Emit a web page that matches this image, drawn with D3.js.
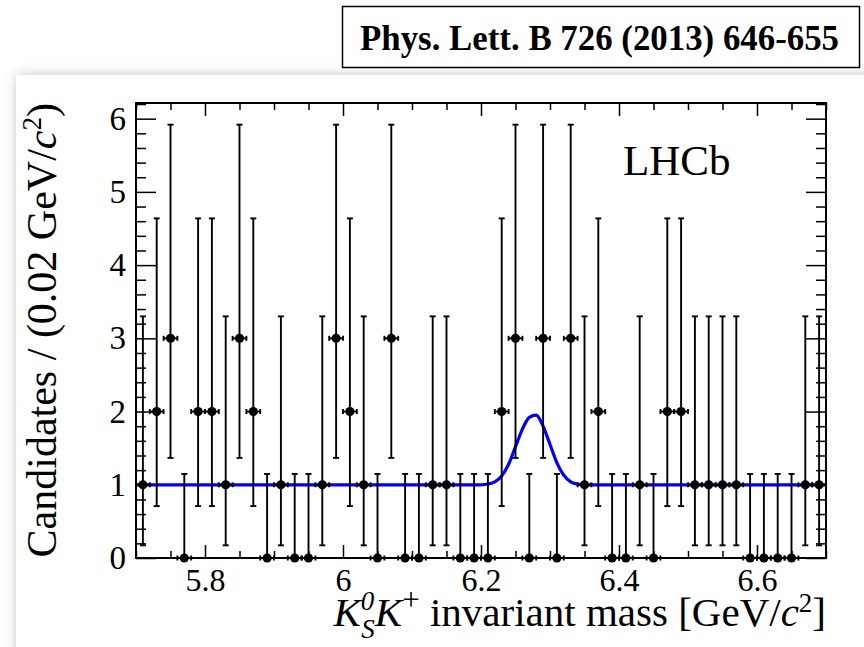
<!DOCTYPE html>
<html>
<head>
<meta charset="utf-8">
<script src="https://cdn.jsdelivr.net/npm/d3@7/dist/d3.min.js"></script>
<style>
  body { margin: 0; background: #fff; }
  svg { display: block; }
  .tick text { font-family: 'Liberation Serif', 'Times New Roman', serif; fill: #000; }
</style>
</head>
<body>
<div class="chart"></div>
<script>
// bin centres (0.02 GeV/c^2 bins) and candidate counts
var masses = [5.71, 5.73, 5.75, 5.77, 5.79, 5.81, 5.83, 5.85, 5.87, 5.89,
              5.91, 5.93, 5.95, 5.97, 5.99, 6.01, 6.03, 6.05, 6.07, 6.09,
              6.11, 6.13, 6.15, 6.17, 6.19, 6.21, 6.23, 6.25, 6.27, 6.29,
              6.31, 6.33, 6.35, 6.37, 6.39, 6.41, 6.43, 6.45, 6.47, 6.49,
              6.51, 6.53, 6.55, 6.57, 6.59, 6.61, 6.63, 6.65, 6.67, 6.69];
var counts = [1, 2, 3, 0, 2, 2, 1, 3, 2, 0,
              1, 0, 0, 1, 3, 2, 1, 0, 3, 0,
              0, 1, 1, 0, 0, 0, 2, 3, 0, 3,
              0, 3, 1, 2, 0, 0, 1, 0, 2, 2,
              1, 1, 1, 1, 0, 0, 0, 0, 1, 1];
// asymmetric (Poisson) error bar sizes by count, as drawn
var errLow  = [0, 0.827, 1.291, 1.633];
var errHigh = [1.148, 2.300, 2.638, 2.918];

// fit curve
var fitMass  = [5.70, 6.20, 6.21, 6.22, 6.23, 6.24, 6.25, 6.26, 6.27, 6.28,
                6.29, 6.30, 6.31, 6.32, 6.33, 6.34, 6.35, 6.70];
var fitValue = [1.00, 1.00, 1.01, 1.04, 1.12, 1.28, 1.52, 1.76, 1.92, 1.95,
                1.80, 1.55, 1.30, 1.13, 1.04, 1.01, 1.00, 1.00];

var xTicks = [5.8, 6.0, 6.2, 6.4, 6.6],
    xTickLabels = ['5.8', '6', '6.2', '6.4', '6.6'],
    yTicks = [0, 1, 2, 3, 4, 5, 6],
    yTickLabels = ['0', '1', '2', '3', '4', '5', '6'];

var W = 864, H = 647,
    frame = { left: 136, right: 826, top: 103, bottom: 558 },
    serif = "'Liberation Serif', 'Times New Roman', serif";

var svg = d3.select('.chart')
  .append('svg')
    .attr('width', W)
    .attr('height', H);

// panel with a soft shadow on the top/left
var defs = svg.append('defs');
defs.append('filter')
    .attr('id', 'blur')
    .attr('x', '-10%').attr('y', '-10%')
    .attr('width', '120%').attr('height', '120%')
  .append('feGaussianBlur')
    .attr('stdDeviation', 6);

svg.append('rect')
  .attr('width', W).attr('height', H).attr('fill', '#fff');
svg.append('rect')
  .attr('x', 16).attr('y', 75).attr('width', 900).attr('height', 700)
  .attr('fill', '#c6c6c6')
  .attr('filter', 'url(#blur)');
svg.append('rect')
  .attr('x', 16).attr('y', 75).attr('width', 900).attr('height', 700)
  .attr('fill', '#fff');

// journal reference box
svg.append('rect')
  .attr('x', 342.5).attr('y', 6.5).attr('width', 517).attr('height', 61)
  .attr('fill', '#fff').attr('stroke', '#000').attr('stroke-width', 1.5);
svg.append('text')
  .attr('x', 360).attr('y', 50)
  .attr('textLength', 479).attr('lengthAdjust', 'spacingAndGlyphs')
  .style('font-family', serif).style('font-weight', 'bold').style('font-size', '35px')
  .text('Phys. Lett. B 726 (2013) 646-655');

// scales
var x = d3.scaleLinear().domain([5.7, 6.7]).range([frame.left, frame.right]);
var y = d3.scaleLinear().domain([0, 6.214]).range([frame.bottom, frame.top]);

var xMinor = d3.range(5.7, 6.7001, 0.05).filter(v => Math.abs(v / 0.2 - Math.round(v / 0.2)) > 1e-6);
var yMinor = d3.range(0, 6.21, 0.2).filter(v => Math.abs(v - Math.round(v)) > 1e-6);

// axes: ticks point into the frame on all four sides
function noDomain(g) { g.select('.domain').remove(); g.selectAll('line').attr('stroke', '#000').attr('stroke-width', 1.5); }

svg.append('g')
  .attr('transform', `translate(0, ${frame.bottom})`)
  .call(d3.axisBottom(x).tickValues(xTicks).tickFormat((d, i) => xTickLabels[i]).tickSizeInner(-13).tickPadding(10))
  .call(noDomain)
  .selectAll('text').style('font-size', '32px');
svg.append('g')
  .attr('transform', `translate(0, ${frame.bottom})`)
  .call(d3.axisBottom(x).tickValues(xMinor).tickFormat('').tickSizeInner(-7))
  .call(noDomain);
svg.append('g')
  .attr('transform', `translate(0, ${frame.top})`)
  .call(d3.axisTop(x).tickValues(xTicks).tickFormat('').tickSizeInner(-13))
  .call(noDomain);
svg.append('g')
  .attr('transform', `translate(0, ${frame.top})`)
  .call(d3.axisTop(x).tickValues(xMinor).tickFormat('').tickSizeInner(-7))
  .call(noDomain);

svg.append('g')
  .attr('transform', `translate(${frame.left}, 0)`)
  .call(d3.axisLeft(y).tickValues(yTicks).tickFormat((d, i) => yTickLabels[i]).tickSizeInner(-20).tickPadding(10))
  .call(noDomain)
  .selectAll('text').style('font-size', '33px');
svg.append('g')
  .attr('transform', `translate(${frame.left}, 0)`)
  .call(d3.axisLeft(y).tickValues(yMinor).tickFormat('').tickSizeInner(-10))
  .call(noDomain);
svg.append('g')
  .attr('transform', `translate(${frame.right}, 0)`)
  .call(d3.axisRight(y).tickValues(yTicks).tickFormat('').tickSizeInner(-20))
  .call(noDomain);
svg.append('g')
  .attr('transform', `translate(${frame.right}, 0)`)
  .call(d3.axisRight(y).tickValues(yMinor).tickFormat('').tickSizeInner(-10))
  .call(noDomain);

// fit curve
var fitData = fitMass.map((m, i) => ({ m: m, v: fitValue[i] }));
svg.append('path')
  .datum(fitData)
  .attr('fill', 'none')
  .attr('stroke', '#0000ff')
  .attr('stroke-width', 3.2)
  .attr('d', d3.line().x(d => x(d.m)).y(d => y(d.v)).curve(d3.curveMonotoneX));

// data points with error bars
var data = masses.map((m, i) => ({ m: m, c: counts[i] }));
var pts = svg.append('g')
  .selectAll('.pt')
  .data(data)
  .enter()
  .append('g')
    .attr('class', 'pt')
    .attr('stroke', '#000')
    .attr('stroke-width', 1.9);

pts.append('line')
  .attr('x1', d => x(d.m)).attr('x2', d => x(d.m))
  .attr('y1', d => y(d.c - errLow[d.c])).attr('y2', d => y(d.c + errHigh[d.c]));
pts.append('line')
  .attr('x1', d => x(d.m) - 3).attr('x2', d => x(d.m) + 3)
  .attr('y1', d => y(d.c + errHigh[d.c])).attr('y2', d => y(d.c + errHigh[d.c]));
pts.filter(d => d.c > 0).append('line')
  .attr('x1', d => x(d.m) - 3).attr('x2', d => x(d.m) + 3)
  .attr('y1', d => y(d.c - errLow[d.c])).attr('y2', d => y(d.c - errLow[d.c]));
pts.append('line')
  .attr('x1', d => x(d.m - 0.01)).attr('x2', d => x(d.m + 0.01))
  .attr('y1', d => y(d.c)).attr('y2', d => y(d.c));
pts.append('line')
  .attr('x1', d => x(d.m - 0.01)).attr('x2', d => x(d.m - 0.01))
  .attr('y1', d => y(d.c) - 2.5).attr('y2', d => y(d.c) + 2.5);
pts.append('line')
  .attr('x1', d => x(d.m + 0.01)).attr('x2', d => x(d.m + 0.01))
  .attr('y1', d => y(d.c) - 2.5).attr('y2', d => y(d.c) + 2.5);
pts.append('circle')
  .attr('cx', d => x(d.m)).attr('cy', d => y(d.c))
  .attr('r', 4.6)
  .attr('stroke', 'none')
  .attr('fill', '#000');

// frame
svg.append('rect')
  .attr('x', frame.left).attr('y', frame.top)
  .attr('width', frame.right - frame.left).attr('height', frame.bottom - frame.top)
  .attr('fill', 'none').attr('stroke', '#000').attr('stroke-width', 2);

// LHCb label
svg.append('text')
  .attr('x', 623).attr('y', 175)
  .style('font-family', serif).style('font-size', '43px')
  .text('LHCb');

// axis titles
var xt = svg.append('text')
  .attr('x', frame.right).attr('y', 626)
  .attr('text-anchor', 'end')
  .style('font-family', serif).style('font-size', '41px');
xt.append('tspan').style('font-style', 'italic').text('K');
xt.append('tspan').style('font-style', 'italic').style('font-size', '27px').attr('dy', -16).text('0');
xt.append('tspan').style('font-style', 'italic').style('font-size', '27px').attr('dx', -13).attr('dy', 28).text('S');
xt.append('tspan').style('font-style', 'italic').attr('dy', -12).text('K');
xt.append('tspan').style('font-size', '31px').attr('dy', -16).text('+');
xt.append('tspan').attr('dy', 16).text(' invariant mass [GeV/');
xt.append('tspan').style('font-style', 'italic').text('c');
xt.append('tspan').style('font-size', '27px').attr('dy', -14).text('2');
xt.append('tspan').attr('dy', 14).text(']');

var yt = svg.append('text')
  .attr('transform', `translate(56, ${frame.top}) rotate(-90)`)
  .attr('text-anchor', 'end')
  .style('font-family', serif).style('font-size', '42px');
yt.append('tspan').text('Candidates / (0.02 GeV/');
yt.append('tspan').style('font-style', 'italic').text('c');
yt.append('tspan').style('font-size', '27px').attr('dy', -15).text('2');
yt.append('tspan').attr('dy', 15).text(')');
</script>
</body>
</html>
